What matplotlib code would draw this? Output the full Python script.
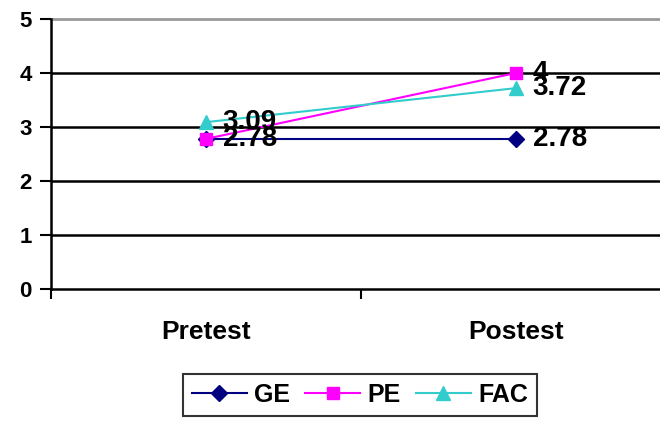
import matplotlib
matplotlib.use('Agg')
import matplotlib.pyplot as plt

# DATA
categories = ['Pretest', 'Postest']
ge = [2.78, 2.78]
pe = [2.78, 4]
fac = [3.09, 3.72]
labels_ge = ['2.78', '2.78']
labels_pe = ['', '4']
labels_fac = ['3.09', '3.72']

plt.rcParams['font.family'] = ['Liberation Sans', 'DejaVu Sans']
plt.rcParams['font.weight'] = 'bold'

fig = plt.figure(figsize=(6.6, 4.24), dpi=100)
ax = fig.add_axes([51/660, 1 - 289/424, 620/660, 270/424])

x = [0.5, 1.5]
ax.plot(x, ge, color='#000080', lw=1.5, marker='D', ms=8, label='GE', zorder=3)
ax.plot(x, pe, color='#FF00FF', lw=1.5, marker='s', ms=9, label='PE', zorder=4)
ax.plot(x, fac, color='#33CCCC', lw=1.5, marker='^', ms=10, label='FAC', zorder=5)

# data labels
for vals, labs in [(ge, labels_ge), (pe, labels_pe), (fac, labels_fac)]:
    for xi, v, t in zip(x, vals, labs):
        if t:
            ax.annotate(t, (xi, v), xytext=(12, 0), textcoords='offset points',
                        ha='left', va='center', fontsize=20, fontweight='bold',
                        color='black', zorder=6)

ax.set_xlim(0, 2)
ax.set_ylim(0, 5)
ax.set_yticks([0, 1, 2, 3, 4, 5])
ax.set_xticks([0, 1, 2])
ax.set_xticklabels([])
ax.set_xticks(x, minor=True)
ax.set_xticklabels(categories, minor=True, fontsize=19, fontweight='bold')
ax.tick_params(axis='x', which='minor', length=0, pad=22)
ax.tick_params(axis='x', which='major', length=7, width=1.5, direction='out')
ax.tick_params(axis='y', length=8, width=1.5, direction='out', labelsize=16, pad=6)

for yv in [1, 2, 3, 4]:
    ax.axhline(yv, color='black', lw=1.8, zorder=1)
ax.axhline(5, color='#999999', lw=2, zorder=1, clip_on=False)

for s in ['top', 'right']:
    ax.spines[s].set_visible(False)
ax.spines['left'].set_linewidth(1.8)
ax.spines['bottom'].set_linewidth(1.8)

leg = fig.legend(loc='upper center', bbox_to_anchor=(360/660, 1 - 374/424), ncol=3,
                 fontsize=18, frameon=True, fancybox=False, handlelength=2.2,
                 handletextpad=0.3, columnspacing=0.6, borderpad=0.35,
                 borderaxespad=0)
leg.get_frame().set_edgecolor('black')
leg.get_frame().set_linewidth(1.5)
for t in leg.get_texts():
    t.set_fontweight('bold')

fig.savefig('out.png', dpi=100)
